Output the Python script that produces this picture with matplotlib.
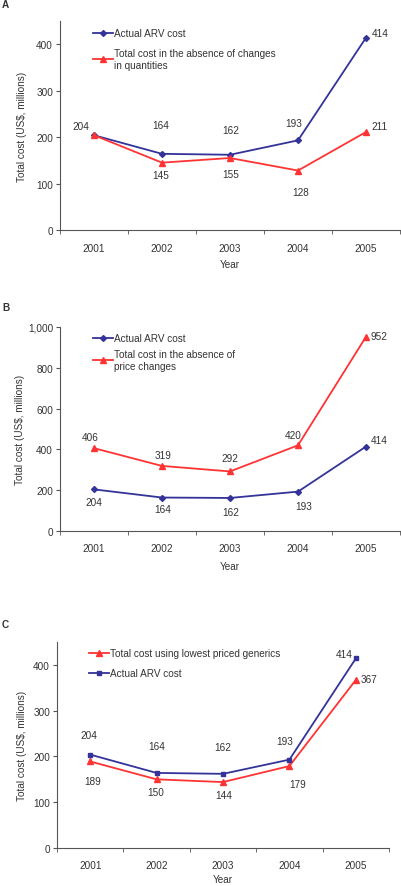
import matplotlib
matplotlib.use("Agg")
import matplotlib.pyplot as plt
from matplotlib.ticker import FuncFormatter, FixedLocator

plt.rcParams['font.family'] = ['Liberation Sans', 'DejaVu Sans']

years = ["2001", "2002", "2003", "2004", "2005"]

# Panel A
a_actual = [204, 164, 162, 193, 414]
a_noqty = [204, 145, 155, 128, 211]
# Panel B
b_actual = [204, 164, 162, 193, 414]
b_noprice = [406, 319, 292, 420, 952]
# Panel C
c_generic = [189, 150, 144, 179, 367]
c_actual = [204, 164, 162, 193, 414]

BLUE = "#333399"
RED = "#FF3333"
TXT = "#333333"
FS = 7.2

fig = plt.figure(figsize=(4.02, 8.87), dpi=100)

def px(v):
    return v * 0.72

def setup(ax, ymax, yticks, ylab_x, xlab_y, fmt=None):
    x = list(range(1, len(years) + 1))
    ax.set_xlim(0.5, len(years) + 0.5)
    ax.set_ylim(0, ymax)
    ax.set_xticks(x)
    ax.set_xticklabels(years)
    ax.xaxis.set_minor_locator(FixedLocator([i + 0.5 for i in range(0, len(years) + 1)]))
    ax.tick_params(axis='x', which='major', length=0, pad=9, labelsize=FS, colors=TXT)
    ax.tick_params(axis='x', which='minor', length=3, direction='out', color='#555555')
    ax.set_yticks(yticks)
    ax.tick_params(axis='y', length=3, direction='out', labelsize=FS, colors=TXT, color='#555555', pad=2)
    if fmt:
        ax.yaxis.set_major_formatter(FuncFormatter(fmt))
    for s in ['top', 'right']:
        ax.spines[s].set_visible(False)
    for s in ['left', 'bottom']:
        ax.spines[s].set_color('#555555')
        ax.spines[s].set_linewidth(0.8)
    ax.set_xlabel("Year", fontsize=FS, color=TXT)
    ax.set_ylabel("Total cost (US$, millions)", fontsize=FS, color=TXT)
    ax.yaxis.set_label_coords(ylab_x, 0.5)
    ax.xaxis.set_label_coords(0.5, xlab_y)
    ax.xaxis.label.set_va('center')
    ax.yaxis.label.set_va('center')
    return x

def annotate(ax, x, vals, offsets, skip=()):
    for i, (xi, v) in enumerate(zip(x, vals)):
        if i in skip:
            continue
        dx, dy = offsets[i]
        ax.annotate(str(v), (xi, v), xytext=(px(dx), px(dy)), textcoords='offset points',
                    ha='center', va='center', fontsize=FS, color=TXT)

# ---------- Panel A ----------
axA = fig.add_axes([60/402, 1-231/887, 340/402, 209/887])
x = setup(axA, 450, [0, 100, 200, 300, 400], -0.112, -0.163)
axA.plot(x, a_actual, color=BLUE, lw=1.3, marker='D', ms=3, label="Actual ARV cost")
axA.plot(x, a_noqty, color=RED, lw=1.3, marker='^', ms=4,
         label="Total cost in the absence of changes\nin quantities")
annotate(axA, x, a_actual, [(-13, 9), (-1, 29), (1, 25), (-4, 17), (14, 5)])
annotate(axA, x, a_noqty, [(0, 0), (-1, -12), (1, -16), (3, -21), (14, 6)], skip=(0,))
axA.legend(loc='upper left', bbox_to_anchor=(0.085, 0.985), frameon=False, fontsize=FS,
           handlelength=2.0, handletextpad=0.1, labelspacing=1.0, borderaxespad=0,
           labelcolor=TXT)
fig.text(2/402, 1-5/887, "A", fontsize=FS, fontweight='bold', va='center', ha='left', color=TXT)

# ---------- Panel B ----------
axB = fig.add_axes([60/402, 1-532/887, 340/402, 204/887])
x = setup(axB, 1000, [0, 200, 400, 600, 800, 1000], -0.118, -0.172,
          fmt=lambda v, p: f"{int(v):,}")
axB.plot(x, b_actual, color=BLUE, lw=1.3, marker='D', ms=3, label="Actual ARV cost")
axB.plot(x, b_noprice, color=RED, lw=1.3, marker='^', ms=4,
         label="Total cost in the absence of\nprice changes")
annotate(axB, x, b_actual, [(0, -13), (1, -11), (1, -14), (6, -14), (13, 7)])
annotate(axB, x, b_noprice, [(-4, 11), (1, 11), (0, 13), (-5, 10), (13, 1)])
axB.legend(loc='upper left', bbox_to_anchor=(0.085, 0.99), frameon=False, fontsize=FS,
           handlelength=2.0, handletextpad=0.1, labelspacing=0.6, borderaxespad=0,
           labelcolor=TXT)
fig.text(2/402, 1-308/887, "B", fontsize=FS, fontweight='bold', va='center', ha='left', color=TXT)

# ---------- Panel C ----------
axC = fig.add_axes([57/402, 1-849/887, 332/402, 206/887])
x = setup(axC, 450, [0, 100, 200, 300, 400], -0.105, -0.15)
axC.plot(x, c_generic, color=RED, lw=1.3, marker='^', ms=4,
         label="Total cost using lowest priced generics")
axC.plot(x, c_actual, color=BLUE, lw=1.3, marker='s', ms=3.5, label="Actual ARV cost")
annotate(axC, x, c_actual, [(-1, 20), (0, 27), (0, 27), (-5, 19), (-12, 4)])
annotate(axC, x, c_generic, [(2, -20), (-1, -13), (1, -13), (8, -18), (13, 1)])
axC.legend(loc='upper left', bbox_to_anchor=(0.085, 0.99), frameon=False, fontsize=FS,
           handlelength=2.0, handletextpad=0.1, labelspacing=1.0, borderaxespad=0,
           labelcolor=TXT)
fig.text(2/402, 1-625/887, "C", fontsize=FS, fontweight='bold', va='center', ha='left', color=TXT)

fig.savefig("out.png", dpi=100)
